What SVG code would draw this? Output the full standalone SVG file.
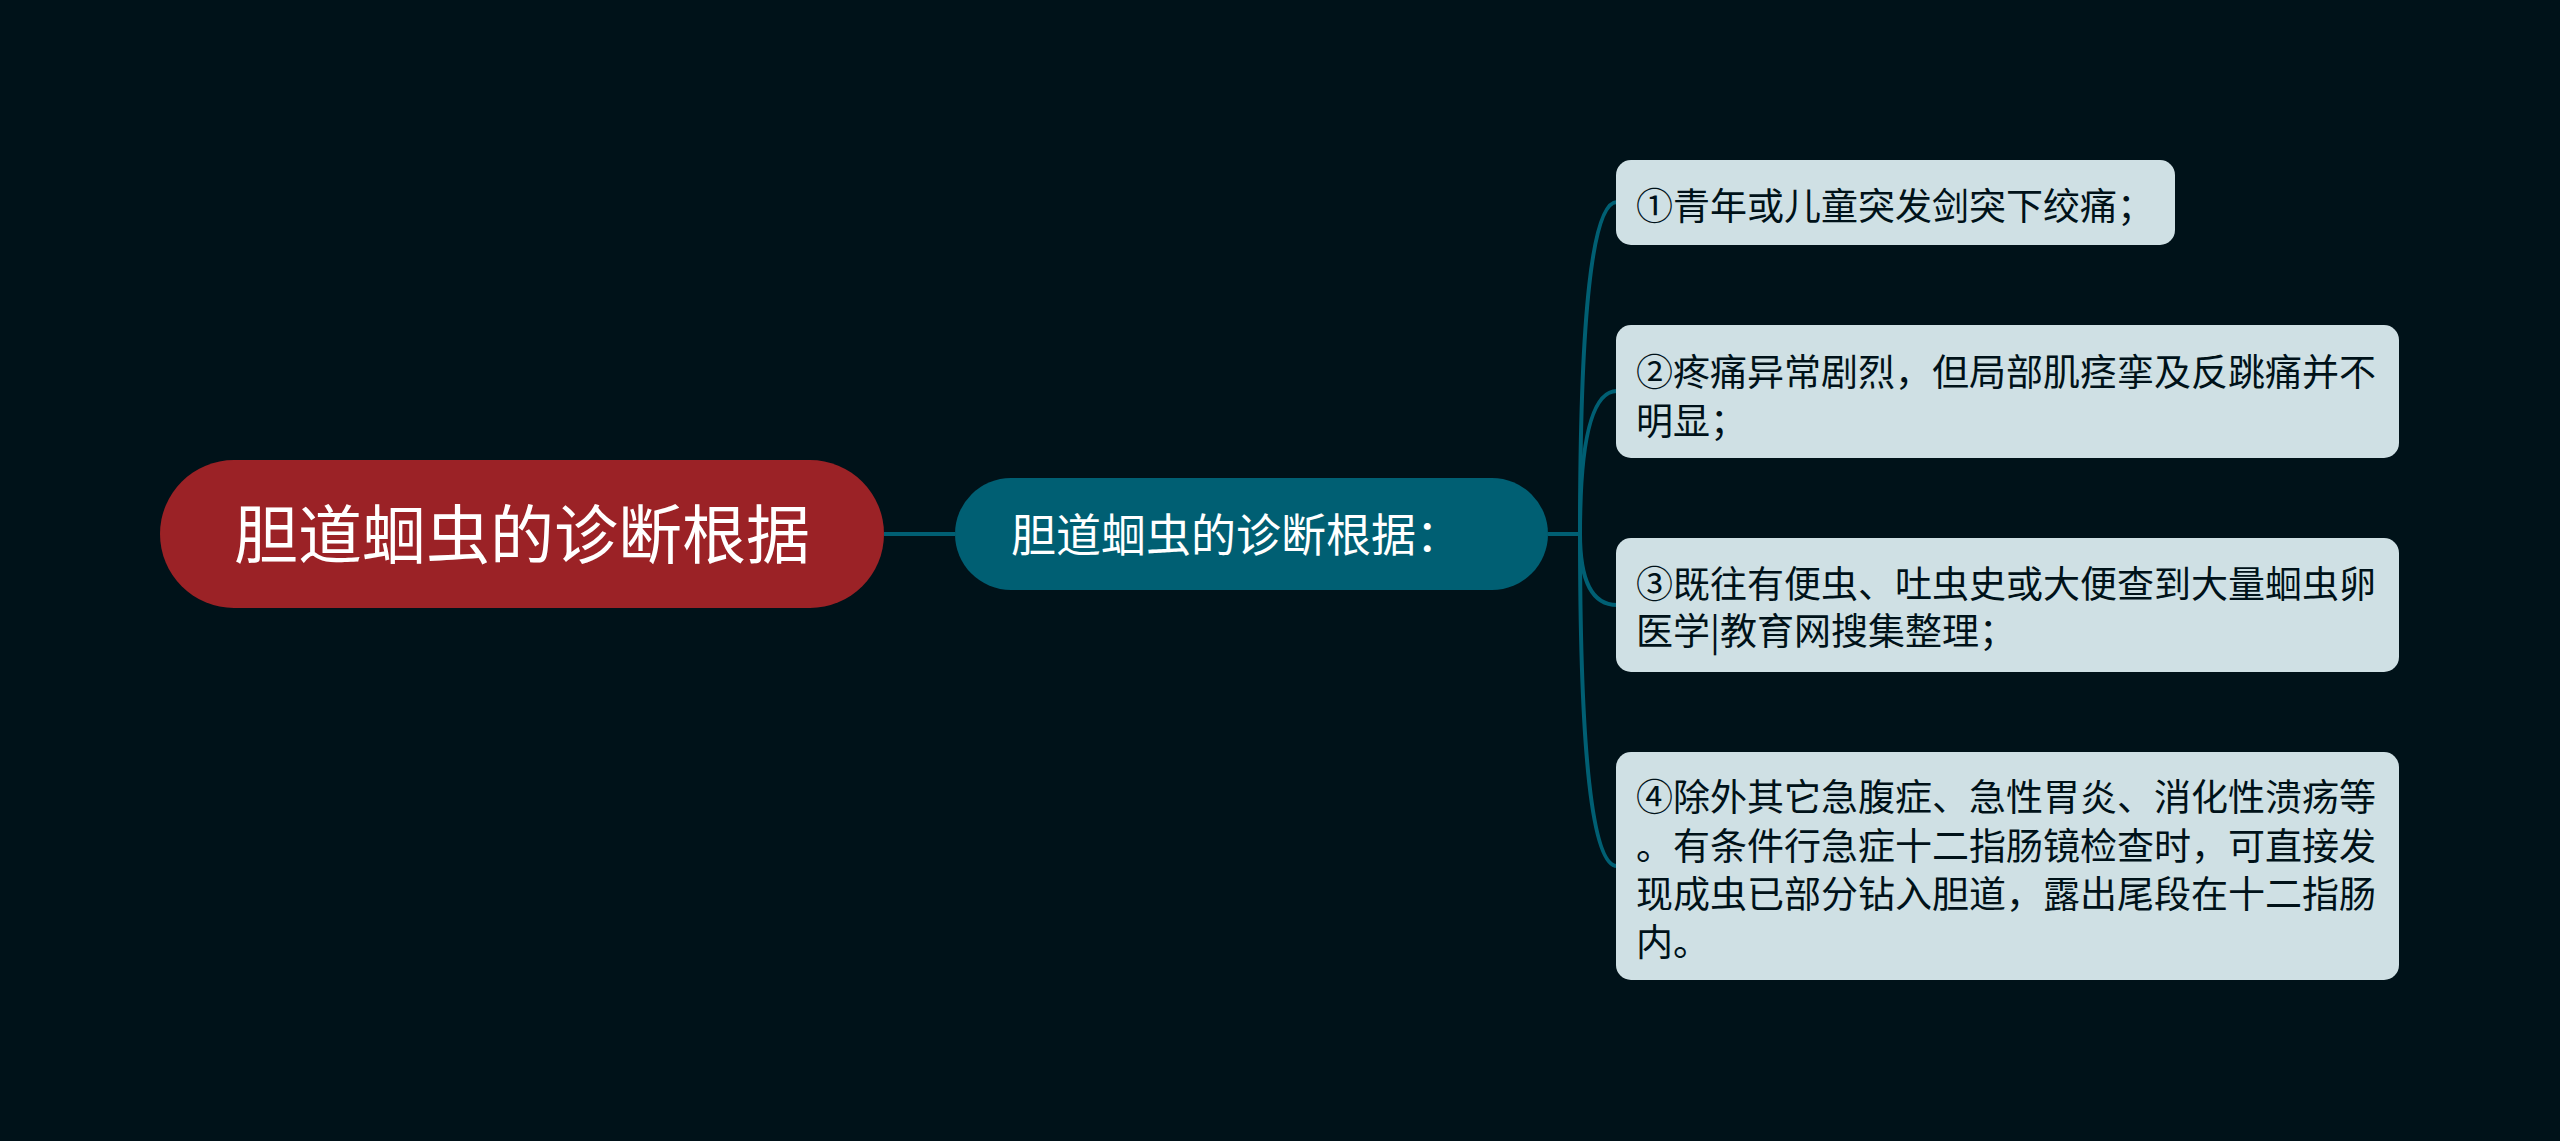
<svg xmlns="http://www.w3.org/2000/svg" width="2560" height="1141" viewBox="0 0 2560 1141">
<style>
text{font-family:"Noto Sans CJK SC","Noto Sans",sans-serif}
.root{fill:#9b2226}
.sub{fill:#005f73}
.leaf{fill:#cfe0e4}
.rt{fill:#ffffff;font-size:64px}
.st{fill:#ffffff;font-size:45px}
.lt{fill:#001219;font-size:37px}
.conn{fill:none;stroke:#005f73;stroke-width:4}
</style>
<rect width="2560" height="1141" fill="#001219"/>
<g id="connectors">
<path class="conn" d="M884 534 H955"/>
<path class="conn" d="M1548 534 H1580"/>
<path class="conn" d="M1580 534 Q1580 202 1617 202"/>
<path class="conn" d="M1580 534 Q1580 391 1617 391"/>
<path class="conn" d="M1580 534 Q1580 605 1617 605"/>
<path class="conn" d="M1580 534 Q1580 866 1617 866"/>
</g>
<g id="root">
<rect class="root" x="160" y="460" width="724" height="148" rx="74"/>
<text class="rt" x="522" y="558" text-anchor="middle">胆道蛔虫的诊断根据</text>
</g>
<g id="sub">
<rect class="sub" x="955" y="478" width="593" height="112" rx="56"/>
<text class="st" x="1011" y="552">胆道蛔虫的诊断根据：</text>
</g>
<g id="leaf1">
<rect class="leaf" x="1616" y="160" width="559" height="85" rx="15"/>
<text class="lt" x="1636" y="220">①青年或儿童突发剑突下绞痛；</text>
</g>
<g id="leaf2">
<rect class="leaf" x="1616" y="325" width="783" height="133" rx="15"/>
<text class="lt"><tspan x="1636" y="386">②疼痛异常剧烈，但局部肌痉挛及反跳痛并不</tspan><tspan x="1636" y="435">明显；</tspan></text>
</g>
<g id="leaf3">
<rect class="leaf" x="1616" y="538" width="783" height="134" rx="15"/>
<text class="lt"><tspan x="1636" y="598">③既往有便虫、吐虫史或大便查到大量蛔虫卵</tspan><tspan x="1636" y="645">医学|教育网搜集整理；</tspan></text>
</g>
<g id="leaf4">
<rect class="leaf" x="1616" y="752" width="783" height="228" rx="15"/>
<text class="lt"><tspan x="1636" y="811">④除外其它急腹症、急性胃炎、消化性溃疡等</tspan><tspan x="1636" y="860">。有条件行急症十二指肠镜检查时，可直接发</tspan><tspan x="1636" y="908">现成虫已部分钻入胆道，露出尾段在十二指肠</tspan><tspan x="1636" y="956">内。</tspan></text>
</g>
</svg>
